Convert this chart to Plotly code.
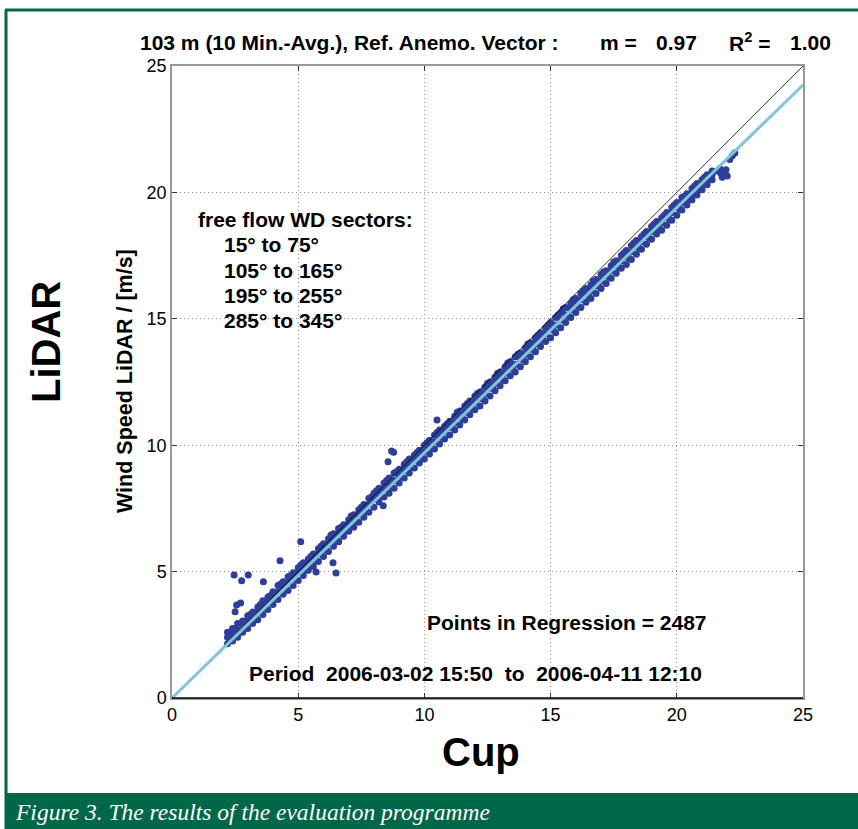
import plotly.graph_objects as go

# ---------------- data ----------------
cup = [2.2, 2.4, 2.6, 2.8, 3.0, 3.2, 3.4, 3.6, 3.8, 4.0, 4.2, 4.4, 4.6, 4.8, 5.0,
       5.2, 5.4, 5.6, 5.8, 6.0, 6.2, 6.4, 6.6, 6.8, 7.0, 7.2, 7.4, 7.6, 7.8, 8.0,
       8.2, 8.4, 8.6, 8.8, 9.0, 9.2, 9.4, 9.6, 9.8, 10.0, 10.2, 10.4, 10.6, 10.8,
       11.0, 11.2, 11.4, 11.6, 11.8, 12.0, 12.2, 12.4, 12.6, 12.8, 13.0, 13.2,
       13.4, 13.6, 13.8, 14.0, 14.2, 14.4, 14.6, 14.8, 15.0, 15.2, 15.4, 15.6,
       15.8, 16.0, 16.2, 16.4, 16.6, 16.8, 17.0, 17.2, 17.4, 17.6, 17.8, 18.0,
       18.2, 18.4, 18.6, 18.8, 19.0, 19.2, 19.4, 19.6, 19.8, 20.0, 20.2, 20.4,
       20.6, 20.8, 21.0, 21.2, 21.4]
lidar_low = [2.15, 2.25, 2.4, 2.6, 2.75, 2.95, 3.1, 3.3, 3.5, 3.7,
             3.9, 4.1, 4.25, 4.45, 4.65, 4.85, 5.05, 5.2, 5.4, 5.6,
             5.8, 6.0, 6.2, 6.4, 6.6, 6.75, 6.95, 7.15, 7.35, 7.55,
             7.75, 7.95, 8.1, 8.3, 8.5, 8.7, 8.9, 9.1, 9.3, 9.45,
             9.65, 9.85, 10.05, 10.25, 10.4, 10.6, 10.8, 11.0, 11.2, 11.4,
             11.55, 11.75, 11.95, 12.15, 12.35, 12.55, 12.75, 12.9, 13.1, 13.3,
             13.5, 13.7, 13.9, 14.1, 14.25, 14.45, 14.65, 14.85, 15.05, 15.25,
             15.45, 15.65, 15.8, 16.0, 16.2, 16.4, 16.6, 16.8, 17.0, 17.15,
             17.35, 17.55, 17.75, 17.95, 18.15, 18.35, 18.5, 18.7, 18.9, 19.1,
             19.3, 19.5, 19.7, 19.9, 20.1, 20.3, 20.5]
lidar_mid = [2.4, 2.55, 2.7, 2.9, 3.05, 3.2, 3.4, 3.6, 3.8, 4.0, 4.2, 4.4, 4.55,
             4.75, 4.95, 5.1, 5.3, 5.5, 5.7, 5.9, 6.1, 6.3, 6.5, 6.65, 6.85, 7.05,
             7.25, 7.45, 7.65, 7.85, 8.05, 8.25, 8.45, 8.6, 8.8, 9.0, 9.2, 9.4, 9.6,
             9.75, 9.95, 10.15, 10.35, 10.55, 10.7, 10.9, 11.1, 11.3, 11.5, 11.7,
             11.85, 12.05, 12.25, 12.45, 12.65, 12.85, 13.05, 13.2, 13.4, 13.6,
             13.8, 14.0, 14.2, 14.4, 14.6, 14.75, 14.95, 15.15, 15.35, 15.55, 15.75,
             15.95, 16.1, 16.3, 16.5, 16.7, 16.9, 17.1, 17.3, 17.45, 17.65, 17.85,
             18.05, 18.25, 18.45, 18.6, 18.8, 19.0, 19.2, 19.4, 19.6, 19.75, 19.95,
             20.15, 20.35, 20.5, 20.7]
lidar_high = [2.6, 2.75, 2.95, 3.05, 3.25, 3.4, 3.6, 3.85, 4.0, 4.2, 4.45, 4.6, 4.8,
              4.95, 5.15, 5.35, 5.5, 5.7, 5.9, 6.1, 6.3, 6.5, 6.7, 6.85, 7.05, 7.25,
              7.45, 7.65, 7.9, 8.1, 8.3, 8.5, 8.7, 8.9, 9.05, 9.25, 9.45, 9.6, 9.8,
              10.0, 10.2, 10.4, 10.6, 10.75, 10.95, 11.15, 11.35, 11.55, 11.75, 11.95,
              12.1, 12.3, 12.5, 12.7, 12.9, 13.1, 13.3, 13.5, 13.65, 13.85, 14.05,
              14.25, 14.45, 14.65, 14.85, 15.05, 15.25, 15.45, 15.6, 15.8, 16.0, 16.2,
              16.35, 16.55, 16.75, 16.9, 17.1, 17.3, 17.5, 17.7, 17.9, 18.1, 18.25,
              18.45, 18.65, 18.85, 19.0, 19.2, 19.4, 19.6, 19.8, 19.95, 20.15, 20.35,
              20.5, 20.7, 20.85]
# in-between cup speeds with their LiDAR readings (fill of the band)
cup_b = [2.3, 2.5, 2.7, 2.9, 3.1, 3.3, 3.5, 3.7, 3.9, 4.1, 4.3, 4.5, 4.7, 4.9, 5.1,
         5.3, 5.5, 5.7, 5.9, 6.1, 6.3, 6.5, 6.7, 6.9, 7.1, 7.3, 7.5, 7.7, 7.9, 8.1,
         8.3, 8.5, 8.7, 8.9, 9.1, 9.3, 9.5, 9.7, 9.9, 10.1, 10.3, 10.5, 10.7, 10.9,
         11.1, 11.3, 11.5, 11.7, 11.9, 12.1, 12.3, 12.5, 12.7, 12.9, 13.1, 13.3,
         13.5, 13.7, 13.9, 14.1, 14.3, 14.5, 14.7, 14.9, 15.1, 15.3, 15.5, 15.7,
         15.9, 16.1, 16.3, 16.5, 16.7, 16.9, 17.1, 17.3, 17.5, 17.7, 17.9, 18.1,
         18.3, 18.5, 18.7, 18.9, 19.1, 19.3, 19.5, 19.7, 19.9, 20.1, 20.3, 20.5,
         20.7, 20.9, 21.1, 21.3]
lidar_b = [2.5, 2.75, 2.6, 3.0, 3.3, 3.25, 3.7, 3.55, 4.05, 3.95,
           4.5, 4.3, 4.85, 4.7, 5.25, 5.05, 5.6, 5.45, 6.0, 5.85,
           6.45, 6.25, 6.75, 6.65, 7.2, 7.0, 7.55, 7.4, 7.95, 8.2,
           8.0, 8.6, 8.35, 8.95, 8.75, 9.35, 9.15, 9.7, 9.55, 10.1,
           9.9, 10.5, 10.3, 10.85, 10.7, 11.3, 11.05, 11.65, 11.45, 12.05,
           11.85, 12.45, 12.25, 12.85, 12.6, 13.25, 13.0, 13.6, 13.4, 14.0,
           13.8, 14.35, 14.15, 14.75, 14.55, 15.15, 15.4, 15.1, 15.75, 15.5,
           16.1, 15.9, 16.5, 16.3, 16.85, 16.65, 17.25, 17.05, 17.6, 17.4,
           18.0, 17.8, 18.35, 18.2, 18.75, 18.6, 19.1, 18.95, 19.5, 19.35,
           19.85, 19.75, 20.25, 20.1, 20.6, 20.5]
# scattered / outlying points
out_cup = [2.46, 2.76, 3.02, 3.62, 2.56, 2.72, 2.50, 4.28, 5.10, 5.71, 6.38, 6.50,
           6.60, 8.37, 8.56, 8.70, 8.78, 10.50, 21.6, 21.7, 21.8, 21.9, 22.0, 22.1,
           22.2, 22.3, 21.75, 21.95]
out_lidar = [4.87, 4.64, 4.87, 4.60, 3.68, 3.76, 3.41, 5.43, 6.18, 4.98, 5.35, 4.94,
             6.18, 7.60, 9.35, 9.77, 9.72, 11.0, 20.85, 20.95, 20.6, 20.7, 20.65, 21.3,
             21.45, 21.56, 20.75, 20.9]

slope = 0.97
r2 = 1.00
n_points = 2487
axis_ticks = [0, 5, 10, 15, 20, 25]

assert len(cup) == len(lidar_low) == len(lidar_mid) == len(lidar_high)
assert len(cup_b) == len(lidar_b)
assert len(out_cup) == len(out_lidar)

# ---------------- figure ----------------
W, H = 858, 829
L, R, T, B = 172, 803, 66, 698


def px(x):
    return (x - L) / (R - L)


def py(y):
    return (B - y) / (B - T)


GREEN = "#006749"
DOT = "#2F3E99"
REG = "#7FC6D6"
FONT = "Liberation Sans, Arial, sans-serif"

fig = go.Figure()

pts_x = cup * 3 + cup_b + out_cup
pts_y = lidar_low + lidar_mid + lidar_high + lidar_b + out_lidar
fig.add_trace(go.Scatter(x=pts_x, y=pts_y, mode="markers",
                         marker=dict(color=DOT, size=7, line=dict(width=0)),
                         showlegend=False, hoverinfo="skip"))

line_x = [axis_ticks[0], axis_ticks[-1]]
fig.add_trace(go.Scatter(x=line_x, y=line_x, mode="lines",
                         line=dict(color="black", width=0.8),
                         showlegend=False, hoverinfo="skip"))
fig.add_trace(go.Scatter(x=line_x, y=[slope * v for v in line_x], mode="lines",
                         line=dict(color=REG, width=3),
                         showlegend=False, hoverinfo="skip"))

axis_common = dict(range=[0, 25], tickvals=axis_ticks, ticktext=[str(v) for v in axis_ticks],
                   showgrid=True, gridcolor="#8a8a8a", griddash="1px,3px", gridwidth=1,
                   zeroline=False, showline=True, linecolor="#999999", linewidth=1.5,
                   mirror="ticks", ticks="inside", ticklen=5, tickcolor="#333333",
                   tickfont=dict(family=FONT, size=18, color="black"))
fig.update_xaxes(**axis_common)
fig.update_yaxes(**axis_common)

shapes = [
    # bottom axis (black)
    dict(type="line", xref="paper", yref="paper", x0=0, x1=1, y0=0, y1=0,
         line=dict(color="black", width=1.5)),
    # green frame
    dict(type="line", xref="paper", yref="paper", x0=px(6), x1=px(6), y0=py(10), y1=py(829),
         line=dict(color=GREEN, width=3)),
    dict(type="line", xref="paper", yref="paper", x0=px(5), x1=px(860), y0=py(10), y1=py(10),
         line=dict(color=GREEN, width=3)),
    dict(type="rect", xref="paper", yref="paper", x0=px(5), x1=px(860), y0=py(793), y1=py(830),
         fillcolor=GREEN, line=dict(width=0)),
]

ann = []


def text(x, y, s, size, anchor="left", bold=False, angle=0, color="black", family=FONT,
         italic=False):
    if bold:
        s = "<b>" + s + "</b>"
    if italic:
        s = "<i>" + s + "</i>"
    ann.append(dict(xref="paper", yref="paper", x=px(x), y=py(y), text=s, showarrow=False,
                    xanchor=anchor, yanchor="middle", textangle=angle,
                    font=dict(family=family, size=size, color=color)))


text(138, 42, "103 m (10 Min.-Avg.), Ref. Anemo. Vector :", 21, bold=True)
text(598, 42, "m =", 21, bold=True)
text(699, 42, f"{slope:.2f}", 21, anchor="right", bold=True)
text(727, 42, "R<sup>2</sup> =", 21, bold=True)
text(833, 42, f"{r2:.2f}", 21, anchor="right", bold=True)

text(196, 220, "free flow WD sectors:", 21, bold=True)
for i, s in enumerate(["15° to 75°", "105° to 165°", "195° to 255°", "285° to 345°"]):
    text(222, 245 + 25 * i, s, 21, bold=True)

text(425, 622, f"Points in Regression = {n_points}", 21, bold=True)
text(247, 673, "Period  2006-03-02 15:50  to  2006-04-11 12:10", 21, bold=True)

text(125, 381, "Wind Speed LiDAR / [m/s]", 21.5, anchor="center", angle=-90, bold=True)
text(46, 342, "LiDAR", 40, anchor="center", bold=True, angle=-90)
text(481, 752, "Cup", 40, anchor="center", bold=True)

text(13, 812, "Figure 3. The results of the evaluation programme", 23.5, color="white",
     family="Liberation Serif, Times New Roman, serif", italic=True)

fig.update_layout(width=W, height=H, margin=dict(l=L, r=W - R, t=T, b=H - B),
                  paper_bgcolor="white", plot_bgcolor="white",
                  shapes=shapes, annotations=ann, showlegend=False)

fig.write_html("out.html", config={"displayModeBar": False},
               post_script="document.body.style.margin='0px';document.body.style.overflow='hidden';")
